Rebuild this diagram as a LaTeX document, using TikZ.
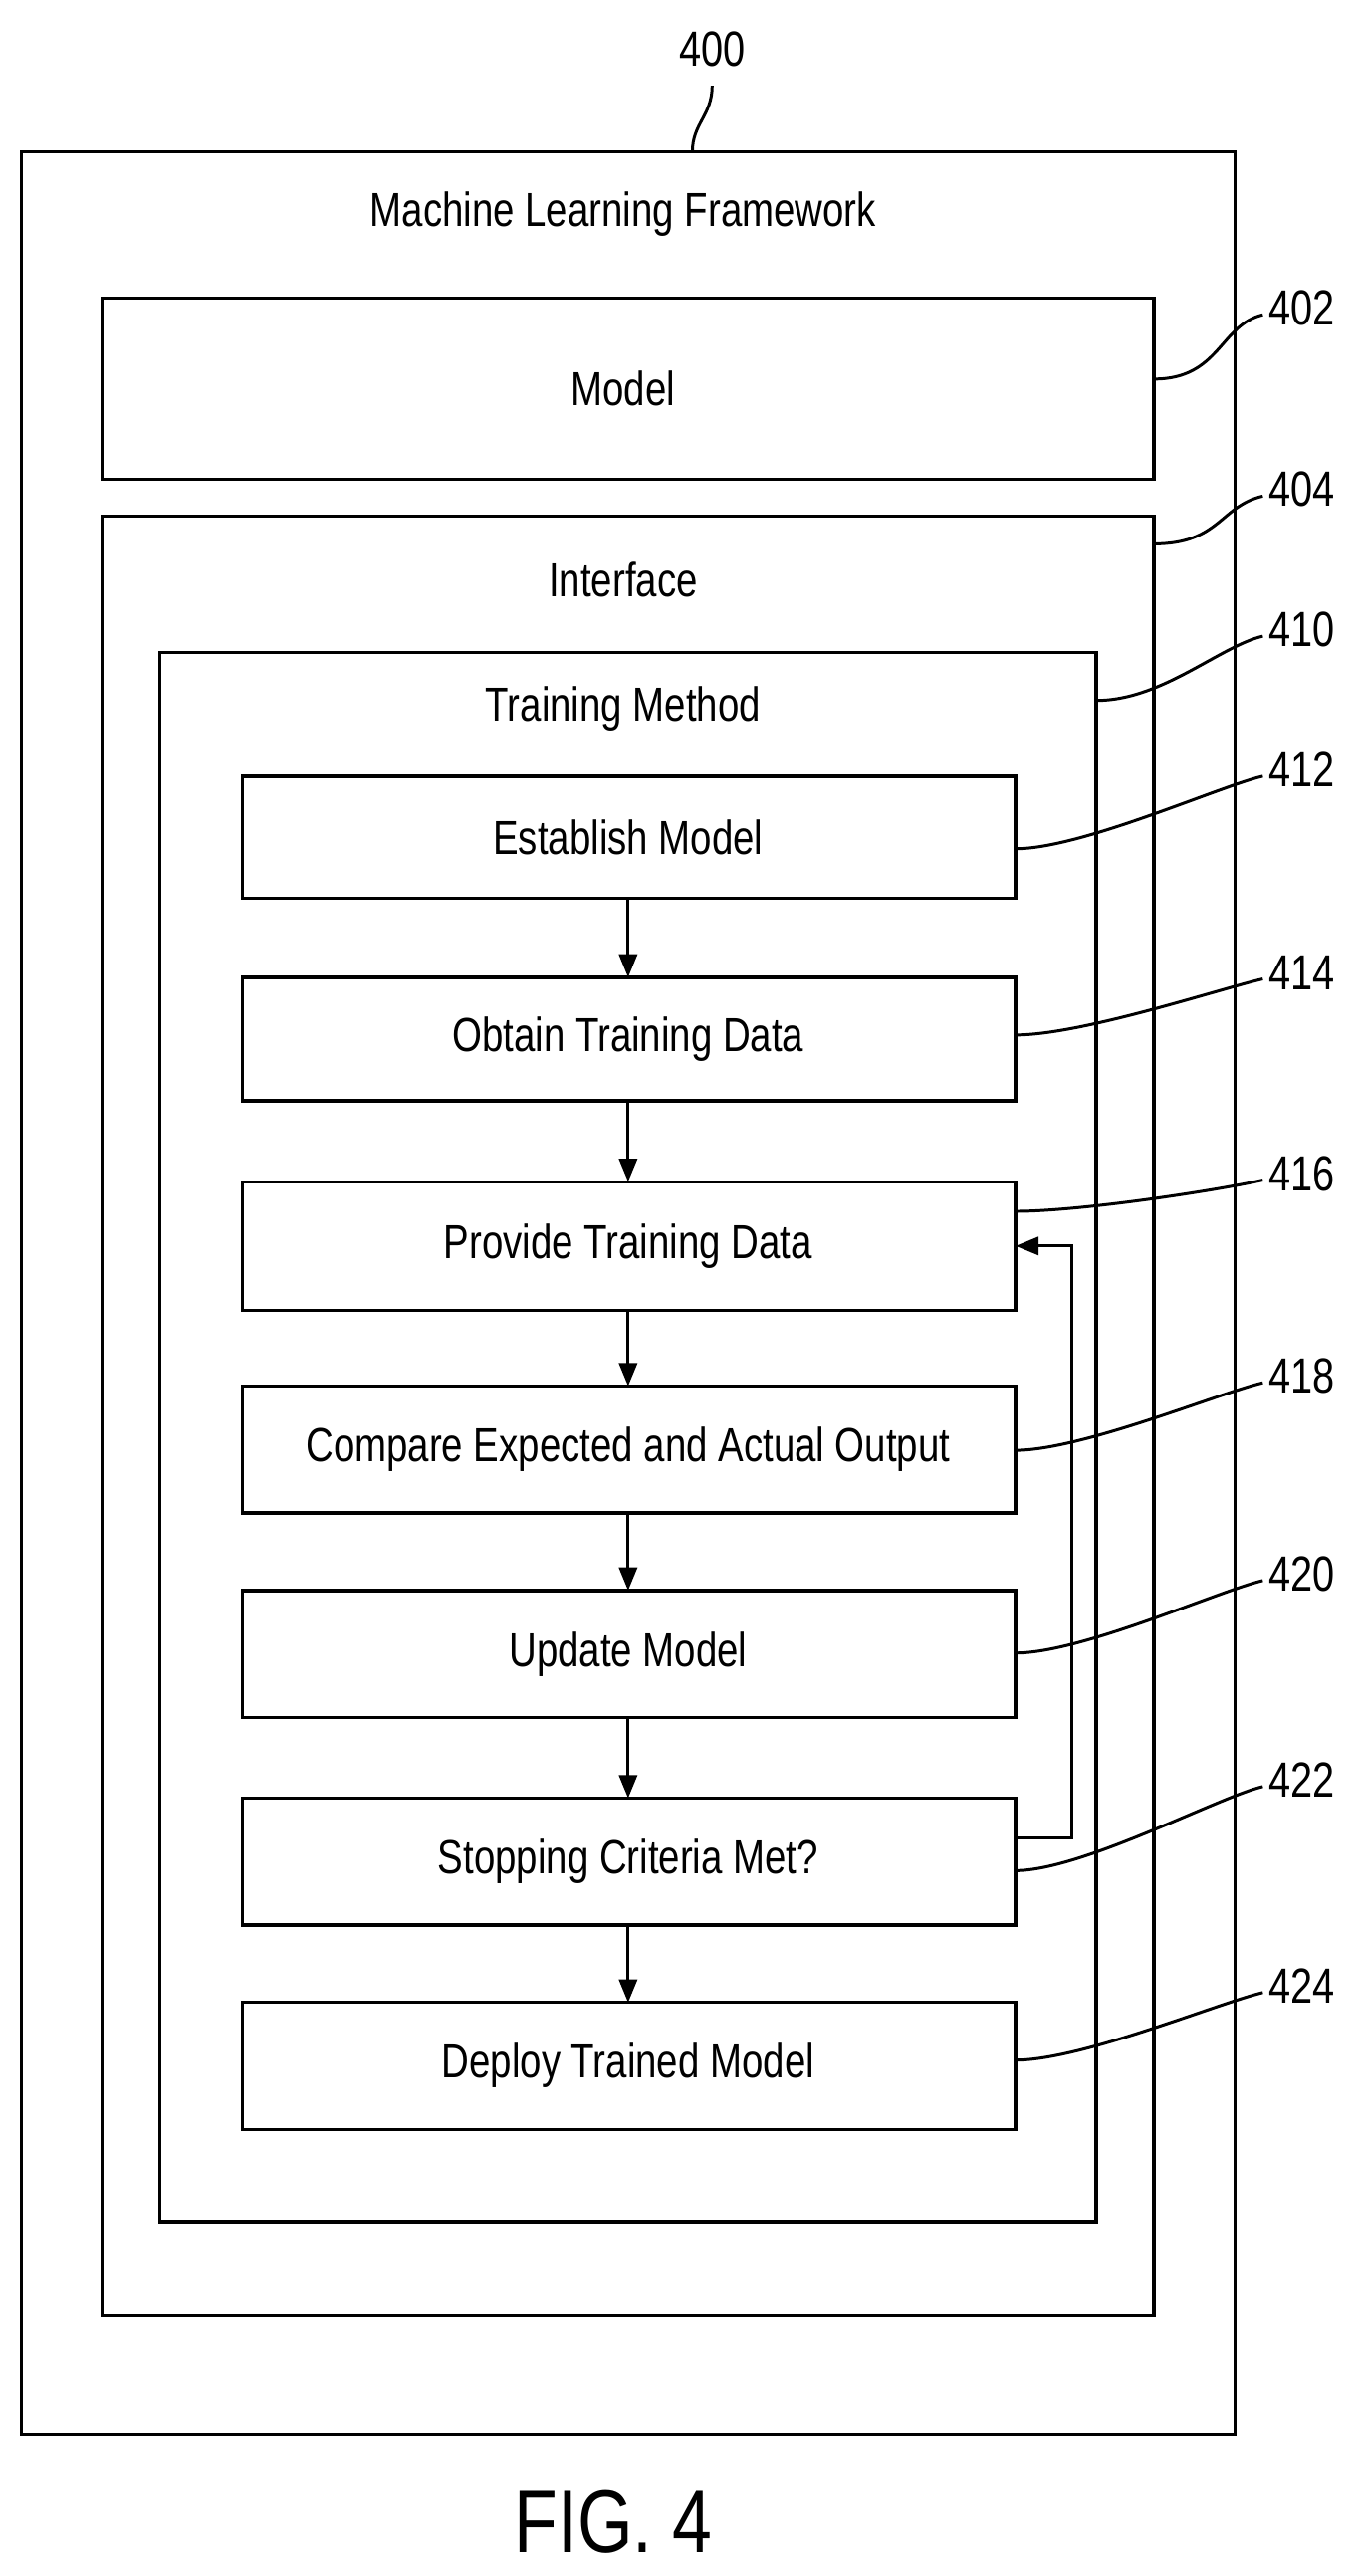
\documentclass[tikz,border=0pt]{standalone}
\usepackage{fontspec}
\setmainfont{Liberation Sans}[FakeStretch=0.8]
\usetikzlibrary{arrows.meta}
\begin{document}
\begin{tikzpicture}[x=1pt,y=-1pt,
  box/.style={draw,line width=2pt},
  lbl/.style={font=\fontsize{29}{33}\selectfont},
  num/.style={font=\fontsize{30}{34}\selectfont},
  arr/.style={line width=1.8pt,-{Triangle[length=14pt,width=11pt]}},
  lead/.style={line width=1.8pt}]
\useasboundingbox (0,0) rectangle (828,1563);
\draw[box] (13,92) rectangle (749,1477);
\node[lbl] (mlf) at (378,130) {Machine Learning Framework};
\node[num] (n400) at (432,30) {400};
\draw[lead] (420,92) .. controls (420,75) and (432,70) .. (432,52);
\draw[box] (62,181) rectangle (700,291);
\node[lbl] (model) at (378,236) {Model};
\draw[box] (62,313) rectangle (700,1405);
\node[lbl] (iface) at (378,352) {Interface};
\draw[box] (97,396) rectangle (665,1348);
\node[lbl] (tm) at (378,430) {Training Method};
\foreach \n/\t/\b/\txt in {a/471/545/Establish Model,b/593/668/Obtain Training Data,c/717/795/Provide Training Data,d/841/918/Compare Expected and Actual Output,e/965/1042/Update Model,f/1091/1168/Stopping Criteria Met?,g/1215/1292/Deploy Trained Model}{
  \draw[box] (147,\t) rectangle (616,\b);
  \node[lbl] (\n) at (381,{(\t+\b)/2}) {\txt};
  \coordinate (\n top) at (381,\t);
  \coordinate (\n bot) at (381,\b);
}
\foreach \p/\q in {a/b,b/c,c/d,d/e,e/f,f/g}{\draw[arr] (\p bot) -- (\q top);}
\coordinate (fbs) at (616,1115);
\coordinate (fbe) at (616,756);
\draw[arr] (fbs) -- (650,1115) -- (650,756) -- (fbe);
\foreach \lab/\ly/\sx/\sy in {402/187/700/230,404/297/700/330,410/382/665/425,412/467/616/515,414/590/616/628,416/712/616/735,418/835/616/880,420/955/616/1003,422/1080/616/1135,424/1205/616/1250}{
  \node[num,anchor=west] (l\lab) at (766,\ly) {\lab};
  \draw[lead] (\sx,\sy) .. controls (\sx+40,\sy) and (740,\ly+10) .. (766,\ly+4);
}
\node[font=\fontsize{54}{60}\selectfont] (fig) at (372,1530) {FIG. 4};
\end{tikzpicture}
\end{document}
